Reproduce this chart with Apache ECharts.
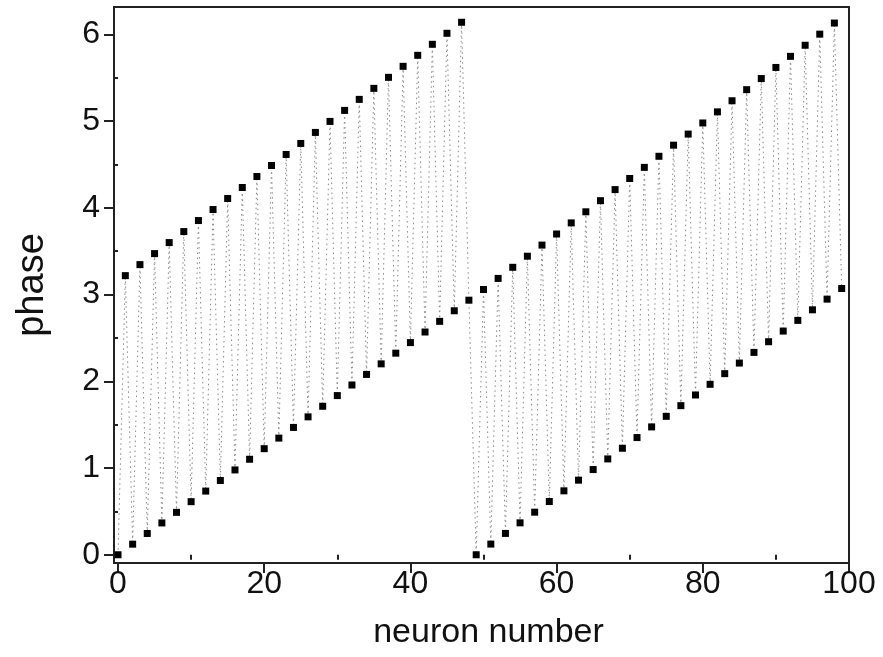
<!DOCTYPE html>
<html>
<head>
<meta charset="utf-8">
<script src="https://cdn.jsdelivr.net/npm/echarts@6/dist/echarts.min.js"></script>
<style>
html,body{margin:0;padding:0;background:#fff;}
#chart{width:883px;height:657px;}
</style>
</head>
<body>
<div id="chart"></div>
<script>
// phase of each neuron, neuron number = index (0..99)
var phase = [
  0.000, 3.218, 0.122, 3.345, 0.245, 3.472, 0.367, 3.599, 0.489, 3.726,
  0.612, 3.853, 0.734, 3.980, 0.856, 4.107, 0.978, 4.234, 1.101, 4.361,
  1.223, 4.488, 1.345, 4.615, 1.468, 4.742, 1.590, 4.869, 1.712, 4.996,
  1.835, 5.123, 1.957, 5.250, 2.079, 5.377, 2.201, 5.504, 2.324, 5.631,
  2.446, 5.758, 2.568, 5.885, 2.691, 6.012, 2.813, 6.139, 2.935, 0.000,
  3.058, 0.123, 3.186, 0.246, 3.314, 0.368, 3.442, 0.491, 3.570, 0.614,
  3.698, 0.737, 3.826, 0.860, 3.954, 0.982, 4.082, 1.105, 4.210, 1.228,
  4.338, 1.351, 4.466, 1.474, 4.594, 1.596, 4.722, 1.719, 4.850, 1.842,
  4.978, 1.965, 5.106, 2.088, 5.234, 2.210, 5.362, 2.333, 5.490, 2.456,
  5.618, 2.579, 5.746, 2.702, 5.874, 2.824, 6.002, 2.947, 6.130, 3.070
];
var xMajorTicks = [0, 20, 40, 60, 80, 100];
var xMinorTicks = [10, 30, 50, 70, 90];
var yMajorTicks = [0, 1, 2, 3, 4, 5, 6];
var yMinorTicks = [0.5, 1.5, 2.5, 3.5, 4.5, 5.5];

var points = phase.map(function (v, i) { return [i, v]; });

var FONT = 'Liberation Sans';
var AX = '#222';
var XMIN = -0.55, XMAX = 100, YMIN = -0.095, YMAX = 6.315;

var chart = echarts.init(document.getElementById('chart'), null, {renderer: 'canvas'});
chart.setOption({
  animation: false,
  backgroundColor: '#fff',
  grid: {left: 114, right: 34, top: 7, bottom: 94, show: true, borderColor: AX, borderWidth: 2,
         containLabel: false, outerBoundsMode: 'none'},
  xAxis: [{
    type: 'value', min: XMIN, max: XMAX, position: 'bottom',
    name: 'neuron number', nameLocation: 'middle', nameGap: 53,
    nameTextStyle: {fontFamily: FONT, fontSize: 34, color: '#111', padding: [0, 0, 0, 14]},
    axisLine: {show: true, onZero: false, lineStyle: {color: AX, width: 2}},
    axisTick: {show: true, inside: false, length: 10, customValues: xMajorTicks, lineStyle: {color: AX, width: 2}},
    axisLabel: {customValues: xMajorTicks, fontFamily: FONT, fontSize: 32, color: '#111', margin: 5},
    splitLine: {show: false}
  }, {
    type: 'value', min: XMIN, max: XMAX, position: 'bottom',
    axisLine: {show: false},
    axisTick: {show: true, inside: false, length: 5, customValues: xMinorTicks, lineStyle: {color: AX, width: 2}},
    axisLabel: {show: false},
    splitLine: {show: false}
  }],
  yAxis: [{
    type: 'value', min: YMIN, max: YMAX, position: 'left',
    name: 'phase', nameLocation: 'middle', nameGap: 62, nameRotate: 90,
    nameTextStyle: {fontFamily: FONT, fontSize: 38, color: '#111'},
    axisLine: {show: true, onZero: false, lineStyle: {color: AX, width: 2}},
    axisTick: {show: true, inside: false, length: 10, customValues: yMajorTicks, lineStyle: {color: AX, width: 2}},
    axisLabel: {customValues: yMajorTicks, fontFamily: FONT, fontSize: 32, color: '#111', margin: 14},
    splitLine: {show: false}
  }, {
    type: 'value', min: YMIN, max: YMAX, position: 'left',
    axisLine: {show: false},
    axisTick: {show: true, inside: false, length: 5, customValues: yMinorTicks, lineStyle: {color: AX, width: 2}},
    axisLabel: {show: false},
    splitLine: {show: false}
  }],
  series: [{
    type: 'line',
    xAxisIndex: 0, yAxisIndex: 0,
    data: points,
    symbol: 'rect',
    symbolSize: 7,
    itemStyle: {color: '#000'},
    lineStyle: {color: '#888', width: 1, type: [1.5, 3.5]},
    emphasis: {disabled: true}
  }]
});
</script>
</body>
</html>
